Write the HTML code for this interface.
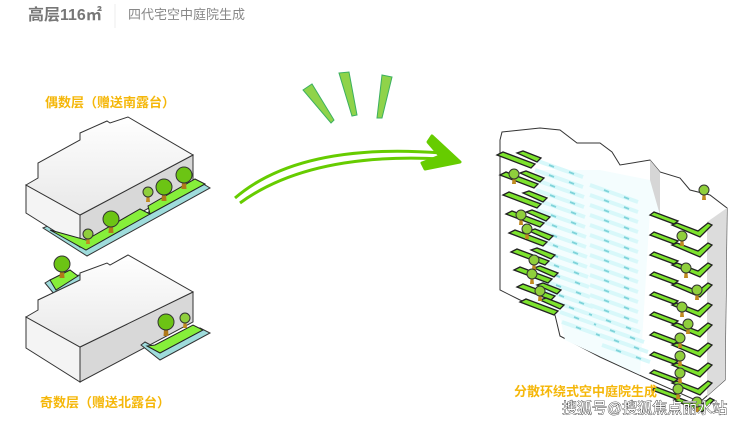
<!DOCTYPE html>
<html><head><meta charset="utf-8"><style>
body{margin:0;background:#fff;width:740px;height:423px;overflow:hidden;font-family:"Liberation Sans","Noto Sans CJK SC",sans-serif}
</style></head><body>
<svg width="740" height="423" viewBox="0 0 740 423" xmlns="http://www.w3.org/2000/svg" style="position:absolute;left:0;top:0">
<defs>
<linearGradient id="tg" x1="0" y1="0" x2="0" y2="1"><stop offset="0" stop-color="#fff"/><stop offset="1" stop-color="#e8e8e8"/></linearGradient>
<g id="tree"><path d="M-1.5,0 L1.5,0 L2.5,14 L-2.5,14Z" fill="#b07a1a"/><circle r="8" fill="#6cc414" stroke="#333" stroke-width="1"/></g>
<g id="treeS"><path d="M-1,0 L1,0 L2,10 L-2,10Z" fill="#c08a20"/><circle r="5" fill="#8fcf3c" stroke="#333" stroke-width="1"/></g>
<g id="strip"><path d="M0,0 L48,17" stroke="#d8f8fa" stroke-width="4"/><path d="M14,5 l5,2 M34,12 l5,2" stroke="#7fd3da" stroke-width="1.8"/></g>
<g id="lbal"><path d="M0,0 L6,-3 L38,9 L34,13Z" fill="#7de32e" stroke="#222" stroke-width="1.3"/><path d="M20,-2 L26,-4 L44,3 L40,7Z" fill="#7de32e" stroke="#222" stroke-width="1.3"/></g>
<g id="rbal"><path d="M0,0 L4,-3 L28,6 L24,9Z" fill="#7de32e" stroke="#222" stroke-width="1.3"/><path d="M22,10 L27,8 L48,16 L58,8 L62,10 L50,22Z" fill="#7de32e" stroke="#222" stroke-width="1.3"/></g>
</defs>

<text x="28" y="20" font-size="16" font-weight="bold" fill="#777">高层116㎡</text>
<line x1="115" y1="4" x2="115" y2="28" stroke="#eee"/>
<text x="128" y="19" font-size="13" fill="#888">四代宅空中庭院生成</text>

<text x="45" y="107" font-size="13" font-weight="bold" fill="#f5b70a">偶数层（赠送南露台）</text>
<text x="40" y="407" font-size="13" font-weight="bold" fill="#f5b70a">奇数层（赠送北露台）</text>

<!-- upper block -->
<path d="M43,228 L50,225 L87,248 L200,182 L210,188 L87,256Z" fill="#9fdcdc" stroke="#333"/>
<path d="M26,185 L80,215 L80,247 L26,213Z" fill="#f4f4f4" stroke="#333"/>
<path d="M80,215 L193,155 L193,183 L80,247Z" fill="#d8d8d8" stroke="#333"/>
<path d="M26,185 L38,178 L38,163 L80,140 L80,133 L107,121 L110,123 L128,117 L193,155 L80,215Z" fill="url(#tg)" stroke="#333"/>
<path d="M50,230 L86,250 L150,214 L140,209 L86,240 Z" fill="#86ef3a" stroke="#222"/>
<path d="M150,214 L205,184 L195,179 L148,206Z" fill="#86ef3a" stroke="#222"/>
<use href="#treeS" x="88" y="234"/><use href="#tree" x="111" y="219"/>
<use href="#treeS" x="148" y="192"/><use href="#tree" x="164" y="187"/><use href="#tree" x="184" y="175"/>

<!-- lower block -->
<path d="M45,283 L50,280 L80,275 L80,284 L55,295Z" fill="#9fdcdc" stroke="#333"/>
<path d="M50,280 L70,270 L78,276 L56,290Z" fill="#86ef3a" stroke="#222"/>
<use href="#tree" x="62" y="264"/>
<path d="M26,317 L80,347 L80,382 L26,348Z" fill="#f4f4f4" stroke="#333"/>
<path d="M80,347 L193,292 L193,322 L80,382Z" fill="#d8d8d8" stroke="#333"/>
<path d="M26,317 L38,310 L38,300 L80,280 L80,273 L107,263 L110,265 L128,255 L193,292 L80,347Z" fill="url(#tg)" stroke="#333"/>
<path d="M141,345 L145,342 L160,350 L200,328 L210,333 L160,360Z" fill="#9fdcdc" stroke="#333"/>
<path d="M147,346 L160,353 L203,330 L193,325 L155,345Z" fill="#86ef3a" stroke="#222"/>
<use href="#tree" x="166" y="322"/><use href="#treeS" x="185" y="318"/>

<!-- rays -->
<path d="M303,90 L312,84 L334,120 L331,123Z" fill="#8fd34a" stroke="#3cb060"/>
<path d="M339,73 L349,72 L357,115 L352,116Z" fill="#8fd34a" stroke="#3cb060"/>
<path d="M382,75 L392,77 L382,118 L377,118Z" fill="#8fd34a" stroke="#3cb060"/>
<!-- arrow -->
<path d="M235,198 Q300,142 442,153" fill="none" stroke="#66cc00" stroke-width="3"/>
<path d="M240,203 Q310,152 442,159" fill="none" stroke="#66cc00" stroke-width="3"/>
<path d="M432,136 L460,162 L425,169 L422,163 L440,156 L428,142Z" fill="#66cc00" stroke="#66cc00" stroke-width="3" stroke-linejoin="round"/>

<!-- right building -->
<path d="M502,132 L540,128 L560,130 L577,143 L600,143 L612,152 L620,165 L650,160 L660,172 L680,178 L690,190 L710,195 L727,208 L725,380 L700,402 L650,380 L600,357 L560,336 L555,315 L520,300 L500,290 L500,140Z" fill="#fff" stroke="#333"/>
<path d="M707,222 L727,208 L725,380 L707,396Z" fill="#dcdcdc"/>
<path d="M650,160 L660,172 L660,215 L650,210Z" fill="#d6d6d6"/>
<path d="M536,170 L530,300 L560,318 L565,340 L640,375 L650,210 L660,215 L650,180 L600,170Z" fill="#f4fdfe"/>
<g>
<use href="#strip" x="535" y="160"/><use href="#strip" x="535" y="170"/><use href="#strip" x="536" y="180"/><use href="#strip" x="536" y="190"/><use href="#strip" x="537" y="200"/><use href="#strip" x="537" y="210"/><use href="#strip" x="538" y="220"/><use href="#strip" x="538" y="230"/><use href="#strip" x="539" y="240"/><use href="#strip" x="539" y="250"/><use href="#strip" x="540" y="260"/><use href="#strip" x="541" y="270"/><use href="#strip" x="542" y="280"/><use href="#strip" x="545" y="290"/><use href="#strip" x="555" y="302"/><use href="#strip" x="560" y="312"/><use href="#strip" x="562" y="322"/>
<use href="#strip" x="590" y="185"/><use href="#strip" x="590" y="195"/><use href="#strip" x="590" y="205"/><use href="#strip" x="590" y="215"/><use href="#strip" x="590" y="225"/><use href="#strip" x="590" y="235"/><use href="#strip" x="590" y="245"/><use href="#strip" x="590" y="255"/><use href="#strip" x="590" y="265"/><use href="#strip" x="590" y="275"/><use href="#strip" x="590" y="285"/><use href="#strip" x="590" y="295"/><use href="#strip" x="590" y="305"/><use href="#strip" x="592" y="315"/><use href="#strip" x="596" y="325"/><use href="#strip" x="600" y="335"/><use href="#strip" x="602" y="345"/>
</g>
<g>
<use href="#lbal" x="497" y="155"/><use href="#lbal" x="500" y="175"/><use href="#lbal" x="503" y="195"/><use href="#lbal" x="506" y="214"/><use href="#lbal" x="509" y="233"/><use href="#lbal" x="511" y="252"/><use href="#lbal" x="514" y="270"/><use href="#lbal" x="517" y="287"/><use href="#lbal" x="520" y="302"/>
<use href="#treeS" x="514" y="174"/><use href="#treeS" x="521" y="215"/><use href="#treeS" x="527" y="229"/><use href="#treeS" x="534" y="260"/><use href="#treeS" x="532" y="274"/><use href="#treeS" x="540" y="291"/><use href="#treeS" x="704" y="190"/>
</g>
<g>
<use href="#rbal" x="650" y="215"/><use href="#rbal" x="650" y="235"/><use href="#rbal" x="650" y="255"/><use href="#rbal" x="650" y="275"/><use href="#rbal" x="650" y="295"/><use href="#rbal" x="650" y="315"/><use href="#rbal" x="650" y="335"/><use href="#rbal" x="650" y="355"/><use href="#rbal" x="650" y="373"/><use href="#rbal" x="652" y="390"/>
<use href="#treeS" x="682" y="236"/><use href="#treeS" x="686" y="268"/><use href="#treeS" x="697" y="290"/><use href="#treeS" x="682" y="307"/><use href="#treeS" x="688" y="324"/><use href="#treeS" x="680" y="338"/><use href="#treeS" x="680" y="356"/><use href="#treeS" x="680" y="373"/><use href="#treeS" x="678" y="389"/><use href="#treeS" x="697" y="402"/>
</g>
<text x="514" y="396" font-size="13" font-weight="bold" fill="#f5b70a">分散环绕式空中庭院生成</text>
<text x="562" y="413" font-size="15" fill="#fff" stroke="#333" stroke-width="0.8" paint-order="stroke">搜狐号@搜狐焦点丽水站</text>
</svg>
</body></html>
